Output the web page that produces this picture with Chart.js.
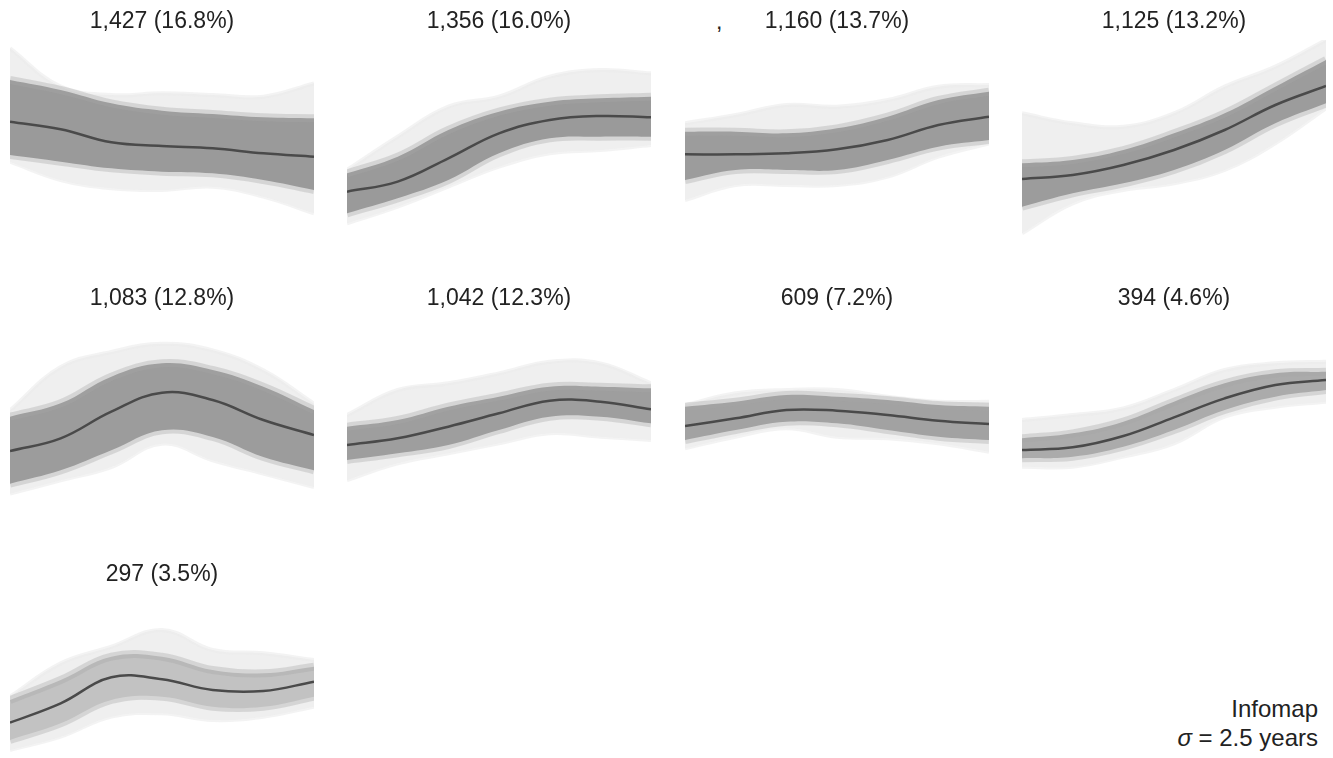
<!DOCTYPE html>
<html>
<head>
<meta charset="utf-8">
<script src="https://cdn.jsdelivr.net/npm/chart.js@4/dist/chart.umd.min.js"></script>
<style>
  html, body { margin: 0; padding: 0; background: #fff; overflow: hidden; }
  #page { position: relative; width: 1333px; height: 758px; font-family: "Liberation Sans", Arial, sans-serif; color: #222; }
  .panel { position: absolute; width: 304px; height: 240px; }
  .note { position: absolute; right: 15px; top: 694px; text-align: right; font-size: 24px; line-height: 29px; color: #222; }
  .stray { position: absolute; left: 716px; top: 8px; font-size: 23px; color: #222; }
</style>
</head>
<body>
<div id="page">
  <div class="stray">,</div>
  <div class="note">Infomap<br><i>σ</i> = 2.5 years</div>
</div>
<script>
// time steps along each panel (no axis shown)
const xSteps = [0, 1, 2, 3, 4, 5, 6];

const titles = [
  '1,427 (16.8%)', '1,356 (16.0%)', '1,160 (13.7%)', '1,125 (13.2%)',
  '1,083 (12.8%)', '1,042 (12.3%)', '609 (7.2%)', '394 (4.6%)',
  '297 (3.5%)'
];

// cluster mean trajectories (standardised units)
const meanLines = [
  [0.55, 0.32, -0.07, -0.18, -0.25, -0.40, -0.50],
  [-1.55, -1.25, -0.55, 0.20, 0.60, 0.72, 0.68],
  [-0.43, -0.43, -0.40, -0.28, 0.00, 0.45, 0.70],
  [-1.17, -1.05, -0.75, -0.30, 0.30, 1.05, 1.62],
  [-1.02, -0.64, 0.16, 0.73, 0.51, -0.09, -0.54],
  [-0.84, -0.64, -0.29, 0.11, 0.49, 0.46, 0.23],
  [-0.27, -0.04, 0.21, 0.19, 0.06, -0.11, -0.21],
  [-0.99, -0.91, -0.57, -0.01, 0.56, 0.96, 1.11],
  [-0.89, -0.31, 0.47, 0.41, 0.09, 0.06, 0.34]
];

// dense core of member trajectories
const coreUpper = [
  [1.80, 1.50, 1.10, 0.88, 0.78, 0.68, 0.65],
  [-1.00, -0.50, 0.30, 0.85, 1.15, 1.25, 1.30],
  [0.25, 0.25, 0.20, 0.35, 0.70, 1.20, 1.45],
  [-0.70, -0.60, -0.30, 0.20, 0.80, 1.60, 2.40],
  [0.01, 0.41, 1.21, 1.61, 1.41, 0.91, 0.21],
  [-0.29, -0.09, 0.31, 0.61, 0.91, 0.91, 0.86],
  [0.31, 0.46, 0.66, 0.61, 0.51, 0.36, 0.31],
  [-0.64, -0.49, -0.14, 0.46, 1.01, 1.31, 1.36],
  [-0.21, 0.39, 1.09, 1.09, 0.69, 0.59, 0.79]
];
const coreLower = [
  [-0.45, -0.65, -0.85, -0.95, -1.00, -1.20, -1.50],
  [-2.20, -1.75, -1.20, -0.40, 0.05, 0.10, 0.10],
  [-1.20, -0.90, -0.90, -0.90, -0.60, -0.20, 0.00],
  [-2.00, -1.60, -1.30, -0.90, -0.30, 0.50, 1.10],
  [-2.00, -1.60, -1.00, -0.40, -0.60, -1.20, -1.60],
  [-1.29, -1.09, -0.84, -0.39, 0.01, 0.01, -0.19],
  [-0.69, -0.39, -0.14, -0.19, -0.39, -0.59, -0.69],
  [-1.24, -1.19, -0.89, -0.39, 0.21, 0.61, 0.81],
  [-1.41, -0.91, -0.21, -0.11, -0.41, -0.41, -0.11]
];

// faint outer envelope of all member trajectories
const spreadUpper = [
  [2.75, 1.60, 1.35, 1.40, 1.35, 1.30, 1.70],
  [-0.90, 0.10, 1.00, 1.30, 1.90, 2.10, 2.00],
  [0.50, 0.75, 1.05, 1.00, 1.20, 1.60, 1.65],
  [0.80, 0.50, 0.40, 0.80, 1.60, 2.20, 3.00],
  [0.20, 1.50, 1.95, 2.20, 2.00, 1.40, 0.40],
  [0.06, 0.81, 1.01, 1.31, 1.66, 1.61, 1.01],
  [0.36, 0.71, 0.81, 0.81, 0.61, 0.46, 0.46],
  [-0.09, 0.06, 0.26, 0.81, 1.41, 1.61, 1.66],
  [-0.11, 0.89, 1.39, 1.89, 1.29, 1.19, 0.99]
];
const spreadLower = [
  [-0.65, -1.20, -1.45, -1.50, -1.40, -1.70, -2.20],
  [-2.50, -2.00, -1.40, -0.80, -0.40, -0.30, -0.15],
  [-1.80, -1.35, -1.35, -1.35, -1.10, -0.50, -0.10],
  [-2.80, -1.90, -1.50, -1.30, -0.90, -0.10, 0.95],
  [-2.30, -1.90, -1.50, -0.80, -1.30, -1.70, -2.10],
  [-1.89, -1.39, -1.09, -0.79, -0.49, -0.59, -0.69],
  [-0.94, -0.59, -0.34, -0.59, -0.64, -0.79, -1.04],
  [-1.49, -1.49, -1.19, -0.79, 0.01, 0.31, 0.46],
  [-1.71, -1.31, -0.71, -0.61, -0.81, -0.71, -0.41]
];

// styling
const coreShade = ['#9a9a9a', '#9a9a9a', '#9c9c9c', '#9c9c9c', '#9c9c9c', '#9e9e9e', '#a2a2a2', '#ababab', '#c2c2c2'];
const coreEdge = 'rgba(165,165,165,0.35)';
const spreadShade = '#efefef';
const meanColor = '#4a4a4a';
const fontFamily = '"Liberation Sans", Arial, sans-serif';

const page = document.getElementById('page');

titles.forEach((title, i) => {
  const col = i % 4;
  const row = Math.floor(i / 4);
  const box = document.createElement('div');
  box.className = 'panel';
  box.style.left = (10 + col * 337.3) + 'px';
  box.style.top = (row * 276.5) + 'px';
  const canvas = document.createElement('canvas');
  box.appendChild(canvas);
  page.appendChild(box);

  const band = (data, fill, color, edge, edgeWidth, order) => ({
    data: data,
    borderWidth: edgeWidth,
    borderColor: edge,
    backgroundColor: color,
    fill: fill,
    pointRadius: 0,
    tension: 0.4,
    order: order
  });

  new Chart(canvas, {
    type: 'line',
    data: {
      labels: xSteps,
      datasets: [
        band(spreadUpper[i], '+1', spreadShade, 'rgba(235,235,235,0.6)', 4, 3),
        band(spreadLower[i], false, spreadShade, 'rgba(235,235,235,0.6)', 4, 3),
        band(coreUpper[i], '+1', coreShade[i], coreEdge, 8, 2),
        band(coreLower[i], false, coreShade[i], coreEdge, 8, 2),
        {
          data: meanLines[i],
          borderColor: meanColor,
          borderWidth: 2.5,
          pointRadius: 0,
          fill: false,
          tension: 0.4,
          order: 0
        }
      ]
    },
    options: {
      responsive: true,
      maintainAspectRatio: false,
      animation: false,
      events: [],
      layout: { padding: 0 },
      plugins: {
        legend: { display: false },
        tooltip: { enabled: false },
        title: {
          display: true,
          text: title,
          color: '#222',
          font: { family: fontFamily, size: 23, weight: 'normal' },
          padding: { top: 8, bottom: 4.4 }
        }
      },
      scales: {
        x: { display: false, offset: false },
        y: { display: false, min: -3, max: 3 }
      }
    }
  });
});
</script>
</body>
</html>
